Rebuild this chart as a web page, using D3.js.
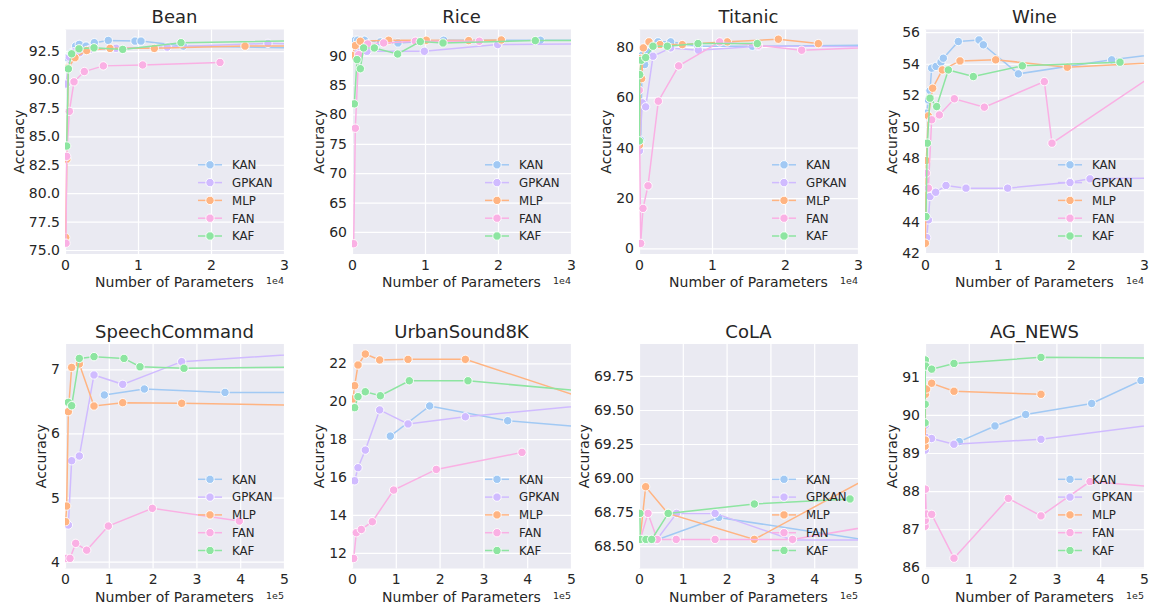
<!DOCTYPE html>
<html>
<head>
<meta charset="utf-8">
<script src="https://cdn.jsdelivr.net/npm/d3@7"></script>
<style>
body{margin:0;background:#fff;}
svg{font-family:'DejaVu Sans',sans-serif;}
</style>
</head>
<body>
<svg id="chart" width="1149" height="605"></svg>
<script>
const methods = ['KAN','GPKAN','MLP','FAN','KAF'];
const colors = ['#a1c9f4','#d0bbff','#ffb482','#fab0e4','#8de5a1'];
const titles = ['Bean','Rice','Titanic','Wine','SpeechCommand','UrbanSound8K','CoLA','AG_NEWS'];

// each dataset: one list of [params, accuracy] per method, in the order of `methods`
const bean = [
  [[370,91.92],[918,92.36],[1466,92.94],[1959,93.09],[2877,92.94],[4014,93.24],[5932,93.44],[9589,93.38],[10411,93.38],[16210,92.94],[35000,92.75]],
  [[150,89.6],[600,91.97],[1300,92.45],[2000,92.35],[3400,92.65],[7000,92.75],[14000,92.85],[27800,93.18],[45000,92.95]],
  [[100,76.1],[250,83.0],[457,91.03],[1370,91.92],[2968,92.55],[6164,92.74],[12237,92.74],[24658,92.94],[40000,92.95]],
  [[137,75.6],[228,83.24],[594,87.2],[1233,89.8],[2648,90.7],[5251,91.2],[10639,91.28],[21233,91.5]],
  [[228,84.15],[457,90.94],[913,92.26],[1918,92.7],[3973,92.79],[7900,92.65],[15890,93.24],[40000,93.49]]
];
const rice = [
  [[457,92.62],[776,92.62],[1689,92.62],[3881,92.33],[6301,92.16],[12557,92.62],[25799,92.62],[40000,92.62]],
  [[822,90.74],[2055,90.74],[9909,90.74],[19954,91.88],[40000,92.05]],
  [[50,90.0],[457,91.71],[1142,92.45],[5023,92.62],[10183,92.62],[15982,92.56],[20457,92.67]],
  [[228,58.0],[457,77.65],[913,90.17],[2146,91.99],[4338,92.16],[8676,92.45],[17443,92.45]],
  [[320,81.8],[685,89.32],[1142,87.78],[1598,91.31],[3059,91.31],[6256,90.28],[9361,92.39],[12466,92.16],[25114,92.56],[40000,92.6]]
];
const titanic = [
  [[228,43.0],[457,76.7],[776,73.0],[1233,78.0],[2603,82.0],[4338,82.0],[8082,80.26],[15525,80.26],[35000,80.8]],
  [[50,38.75],[457,57.8],[913,56.2],[1918,76.3],[4338,79.6],[8128,78.68],[16347,80.26],[40000,79.9]],
  [[50,41.0],[228,75.4],[365,67.4],[594,79.6],[1370,82.0],[2877,80.9],[5936,80.9],[12100,82.0],[19087,83.04],[24566,81.3]],
  [[30,62.8],[228,2.0],[548,15.9],[1233,24.86],[2648,58.45],[5434,72.46],[11050,81.98],[16347,80.66],[22283,78.68],[40000,80.8]],
  [[50,42.7],[91,69.0],[320,74.7],[913,75.77],[1918,80.26],[3881,80.26],[8082,81.32],[16210,81.32]]
];
const wine = [
  [[228,50.87],[457,51.71],[685,52.3],[913,53.72],[1507,53.83],[2192,54.1],[2511,54.35],[4566,55.41],[7397,55.51],[7991,55.2],[12785,53.36],[25571,54.25],[40000,55.07]],
  [[228,42.99],[457,44.11],[685,45.59],[1461,45.86],[2877,46.29],[5616,46.12],[11324,46.12],[19863,46.5],[22603,46.71],[40000,46.8]],
  [[50,42.63],[183,47.87],[457,50.7],[1050,52.45],[2374,53.61],[4795,54.18],[9680,54.25],[19498,53.78],[40000,54.28]],
  [[183,47.07],[457,46.12],[913,50.45],[1963,50.76],[4018,51.78],[8128,51.25],[16347,52.87],[17397,48.97],[40000,56.0]],
  [[137,44.32],[320,48.97],[685,51.82],[1598,51.29],[3196,53.61],[6621,53.19],[13333,53.87],[26712,54.1]]
];
const speech = [
  [[89800,6.6],[181100,6.693],[365300,6.64],[700000,6.64]],
  [[7600,4.572],[15200,5.575],[32700,5.648],[66200,6.912],[131700,6.766],[266400,7.12],[700000,7.31]],
  [[1500,4.624],[3800,4.868],[7600,6.34],[15200,7.03],[32700,7.083],[66200,6.428],[131700,6.48],[266400,6.47],[700000,6.42]],
  [[3800,4.052],[11400,4.052],[24400,4.286],[49500,4.18],[98900,4.556],[199400,4.832],[398000,4.634]],
  [[7600,6.485],[15200,6.433],[32700,7.17],[66200,7.198],[134700,7.17],[171200,7.04],[271700,7.016],[700000,7.05]]
];
const urban = [
  [[87500,18.16],[177300,19.75],[355400,18.97],[700000,18.3]],
  [[6100,15.8],[13700,16.49],[30400,17.42],[63200,19.54],[127900,18.8],[258800,19.18],[700000,20.15]],
  [[2300,20.12],[6100,20.82],[13700,21.91],[30400,22.49],[63200,22.18],[127900,22.21],[258800,22.21],[520000,20.23]],
  [[3800,11.7],[9900,13.06],[21300,13.23],[46400,13.64],[95100,15.31],[192500,16.4],[388100,17.3]],
  [[6100,19.66],[13700,20.24],[30400,20.5],[64700,20.29],[130900,21.08],[264800,21.08],[700000,20.17]]
];
const cola = [
  [[2300,68.545],[15900,68.545],[40000,68.545],[182000,68.71],[600000,68.505]],
  [[2300,68.545],[40000,68.545],[85800,68.74],[173700,68.74],[350000,68.545],[600000,68.545]],
  [[2300,68.549],[15200,68.936],[66000,68.74],[263300,68.549],[600000,69.135]],
  [[3000,68.549],[20500,68.74],[41700,68.549],[85000,68.549],[173700,68.549],[350500,68.549],[600000,68.684]],
  [[2000,68.74],[3000,68.549],[15900,68.549],[28900,68.549],[66700,68.74],[263300,68.809],[481800,68.846]]
];
const agnews = [
  [[78400,89.3],[159800,89.71],[229800,90.01],[380500,90.3],[493100,90.9],[520000,90.92]],
  [[500,89.08],[1000,89.73],[2000,89.41],[15000,89.38],[66000,89.23],[264800,89.36],[700000,90.0]],
  [[300,89.18],[600,89.34],[1000,90.54],[3800,90.68],[15200,90.83],[66200,90.62],[264800,90.54]],
  [[300,87.08],[600,87.23],[1000,88.05],[3000,87.4],[15200,87.39],[66200,86.24],[190300,87.81],[264800,87.35],[376700,88.25],[700000,87.95]],
  [[200,89.79],[400,90.28],[800,91.44],[2000,91.28],[15200,91.2],[66200,91.35],[264800,91.51],[700000,91.48]]
];
const allData = [bean, rice, titanic, wine, speech, urban, cola, agnews];

const yTicks = [
  [75,77.5,80,82.5,85,87.5,90,92.5],
  [60,65,70,75,80,85,90],
  [0,20,40,60,80],
  [42,44,46,48,50,52,54,56],
  [4,5,6,7],
  [12,14,16,18,20,22],
  [68.5,68.75,69,69.25,69.5,69.75],
  [86,87,88,89,90,91]
];
const yFormats = ['.1f','d','d','d','d','d','.2f','d'];
const yDomains = [[74.65,94.4],[56.25,94.45],[-2.2,86.9],[41.95,56.17],[3.894,7.395],[11.17,23.02],[68.335,69.985],[85.97,91.86]];

const svg = d3.select('#chart');
const colX = [65, 352, 639, 925];
const rowY = [[29.5, 254], [344, 568.5]];
const pw = 219;
const textCol = '#262626';

titles.forEach((title, i) => {
  const left = colX[i % 4];
  const [top, bottom] = rowY[Math.floor(i / 4)];
  const top_row = i < 4;
  const xMax = top_row ? 3e4 : 5e5;
  const xUnit = top_row ? 1e4 : 1e5;

  const x = d3.scaleLinear().domain([0, xMax]).range([left, left + pw]);
  const y = d3.scaleLinear().domain(yDomains[i]).range([bottom, top]);

  const g = svg.append('g');
  g.append('rect').attr('x', left).attr('y', top).attr('width', pw).attr('height', bottom - top).attr('fill', '#eaeaf2');

  const yAxis = g.append('g').attr('transform', `translate(${left},0)`)
    .call(d3.axisLeft(y).tickValues(yTicks[i]).tickSize(-pw).tickPadding(5).tickFormat(d3.format(yFormats[i])));
  const xAxis = g.append('g').attr('transform', `translate(0,${bottom})`)
    .call(d3.axisBottom(x).tickValues(d3.range(0, xMax + 1, xUnit)).tickSize(-(bottom - top)).tickPadding(6).tickFormat(d => d / xUnit));
  [yAxis, xAxis].forEach(a => {
    a.select('.domain').remove();
    a.selectAll('line').attr('stroke', '#fff').attr('stroke-width', 1.2);
    a.selectAll('text').attr('fill', textCol).attr('font-size', 14).attr('font-family', 'DejaVu Sans');
  });

  // y label sits left of the widest tick label
  let maxW = 0;
  yAxis.selectAll('text').each(function () { maxW = Math.max(maxW, this.getComputedTextLength()); });
  const lx = left - 5 - maxW - 5;
  g.append('text').attr('transform', `translate(${lx},${(top + bottom) / 2}) rotate(-90)`)
    .attr('text-anchor', 'middle').attr('font-size', 14).attr('fill', textCol).text('Accuracy');

  g.append('text').attr('x', left + pw / 2).attr('y', bottom + 33).attr('text-anchor', 'middle')
    .attr('font-size', 14).attr('fill', textCol).text('Number of Parameters');
  g.append('text').attr('x', left + pw).attr('y', bottom + 30).attr('text-anchor', 'end')
    .attr('font-size', 9.5).attr('fill', textCol).text(top_row ? '1e4' : '1e5');
  g.append('text').attr('x', left + pw / 2).attr('y', top - 6.5).attr('text-anchor', 'middle')
    .attr('font-size', 18).attr('fill', textCol).text(title);

  svg.append('clipPath').attr('id', 'clip' + i)
    .append('rect').attr('x', left).attr('y', top).attr('width', pw).attr('height', bottom - top);
  const plot = g.append('g').attr('clip-path', `url(#clip${i})`);
  const line = d3.line().x(d => x(d[0])).y(d => y(d[1]));

  allData[i].forEach((series, k) => {
    const s = plot.append('g');
    s.append('path').datum(series).attr('d', line).attr('fill', 'none')
      .attr('stroke', colors[k]).attr('stroke-width', 1.5);
    s.selectAll('circle').data(series).join('circle')
      .attr('cx', d => x(d[0])).attr('cy', d => y(d[1])).attr('r', 4.2)
      .attr('fill', colors[k]).attr('stroke', '#fff').attr('stroke-width', 0.9);
  });

  // legend, no frame
  const leg = g.append('g');
  methods.forEach((m, k) => {
    const ly = bottom - 18 - (4 - k) * 17.8;
    leg.append('line').attr('x1', left + 133).attr('x2', left + 157).attr('y1', ly).attr('y2', ly)
      .attr('stroke', colors[k]).attr('stroke-width', 1.5);
    leg.append('circle').attr('cx', left + 145).attr('cy', ly).attr('r', 4.2)
      .attr('fill', colors[k]).attr('stroke', '#fff').attr('stroke-width', 0.9);
    leg.append('text').attr('x', left + 167).attr('y', ly + 4.3).attr('font-size', 11.8)
      .attr('fill', textCol).text(m);
  });
});
</script>
</body>
</html>
